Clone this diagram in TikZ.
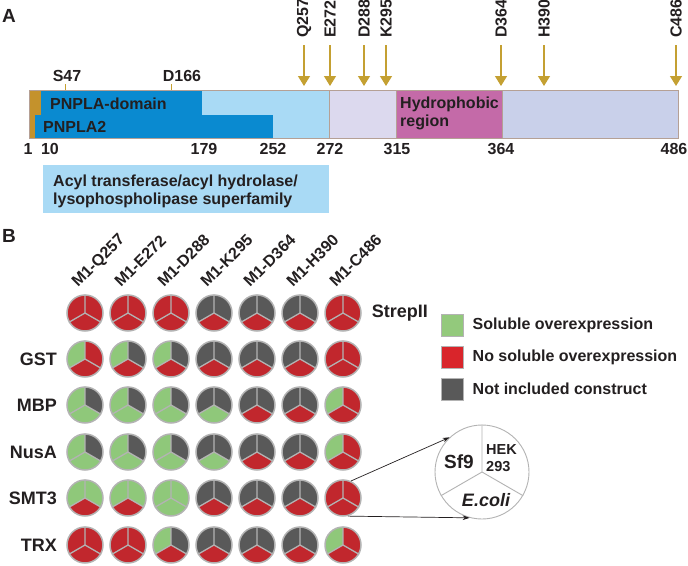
\documentclass[tikz,border=0pt]{standalone}
\usepackage{fontspec}
\setmainfont{Liberation Sans}
\usepackage{xcolor}
\usetikzlibrary{arrows.meta,positioning}

\definecolor{ink}{HTML}{231F20}
\definecolor{gold}{HTML}{C4922C}
\definecolor{arrowgold}{HTML}{C4A032}
\definecolor{pnpla}{HTML}{0A8AD0}
\definecolor{skyblue}{HTML}{A9DAF5}
\definecolor{lilac}{HTML}{DCD9EE}
\definecolor{hydro}{HTML}{C46AA8}
\definecolor{periw}{HTML}{C9D0EA}
\definecolor{barline}{HTML}{B5A095}
\definecolor{pieg}{HTML}{8FC87A}
\definecolor{pier}{HTML}{C1272D}
\definecolor{pied}{HTML}{595959}
\definecolor{rim}{HTML}{B3B3B3}
\definecolor{legr}{HTML}{D9252B}
\definecolor{legg}{HTML}{93C97C}

\begin{document}
\begin{tikzpicture}[
    x=1pt, y=-1pt,
    lab/.style={font=\fontsize{16}{18}\selectfont\bfseries, text=ink, inner sep=0pt},
    panel/.style={font=\fontsize{19}{22}\selectfont\bfseries, text=ink, inner sep=0pt},
    rowlab/.style={font=\fontsize{18}{21}\selectfont\bfseries, text=ink, inner sep=0pt, anchor=east},
    collab/.style={lab, rotate=45, anchor=base west},
    reslab/.style={lab, rotate=90, anchor=west},
    resarrow/.style={arrowgold, line width=1.3pt, -{Triangle[length=10pt,width=12pt]}},
    segment/.style={draw=barline, line width=0.8pt},
    pie/.style={circle, draw=rim, line width=1.5pt, minimum size=36pt, inner sep=0pt},
    divider/.style={rim, line width=1.3pt},
    legbox/.style={draw=rim, line width=1pt, minimum size=22pt, inner sep=0pt},
    callout/.style={ink, line width=0.7pt, -{Stealth[length=7pt,width=4.5pt]}}
]
    \useasboundingbox (0,0) rectangle (688,565);

    % Panel A
    \node[panel] (A) at (9,16) {A};

    % Protein bar
    \fill[skyblue] (41,90) rectangle (329,138);
    \fill[gold] (29,90) rectangle (41,138);
    \fill[pnpla] (41,90) rectangle (202,115);
    \fill[pnpla] (35,115) rectangle (273,138);
    \fill[lilac] (329,90) rectangle (396,138);
    \fill[hydro] (396,90) rectangle (502,138);
    \fill[periw] (502,90) rectangle (678,138);
    \draw[segment] (329,90) -- (329,138) (396,90) -- (396,138) (502,90) -- (502,138);
    \draw[segment] (29,90) rectangle (678,138);

    \node[lab, anchor=west] (domain) at (50,104) {PNPLA-domain};
    \node[lab, anchor=west] (pnpla2) at (43,127) {PNPLA2};
    \node[lab, anchor=north west, align=left] (hydro) at (400,97) {Hydrophobic\\region};

    % Catalytic residues
    \draw[arrowgold, line width=1pt] (65,84) -- (65,90) (171,84) -- (171,90);
    \node[lab] (s47) at (67,76) {S47};
    \node[lab] (d166) at (182,76) {D166};

    % Truncation sites
    \foreach \x/\res in {304/Q257, 330/E272, 364/D288, 386/K295, 501/D364, 544/H390, 676/C486} {
        \node[reslab] (l-\res) at (\x,38) {\res};
        \coordinate (t-\res) at (\x,86);
        \draw[resarrow] ([yshift=-7pt]l-\res.west) -- (t-\res);
    }

    % Residue numbers
    \foreach \x/\num in {28/1, 50/10, 204/179, 273/252, 330/272, 397/315, 501/364, 674/486}
        \node[lab] (n-\num) at (\x,149) {\num};

    % Superfamily
    \fill[skyblue] (43,165) rectangle (329,213);
    \node[lab, anchor=north west, align=left] (family) at (53,175)
        {Acyl transferase/acyl hydrolase/\\lysophospholipase superfamily};

    % Panel B
    \node[panel] (B) at (9,236) {B};

    % Constructs
    \foreach \res [count=\i] in {Q257, E272, D288, K295, D364, H390, C486} {
        \pgfmathsetmacro{\px}{85+43*(\i-1)}
        \node[collab] (c-\res) at (\px-7,288) {M1-\res};
    }

    % Tags
    \node[rowlab] (r-gst) at (57,359) {GST};
    \node[rowlab] (r-mbp) at (57,405) {MBP};
    \node[rowlab] (r-nusa) at (57,452) {NusA};
    \node[rowlab] (r-smt) at (57,498) {SMT3};
    \node[rowlab] (r-trx) at (57,545) {TRX};

    % Pies: Sf9 / HEK293 / E.coli
    \foreach \py/\rw/\cells in {
        313/strep/{r/r/r,r/r/r,r/r/r,d/d/r,d/d/r,d/d/r,r/r/r},
        359/gst/{g/r/r,g/d/r,g/d/r,d/d/r,d/d/r,d/d/r,r/r/r},
        405/mbp/{g/d/g,g/d/g,g/d/g,d/d/g,d/d/r,d/d/r,g/r/r},
        452/nusa/{g/d/g,g/d/g,g/d/g,d/d/g,d/d/r,d/d/r,g/r/r},
        498/smt/{g/g/r,g/g/r,g/g/g,d/d/r,d/d/r,d/d/r,r/r/r},
        545/trx/{r/r/r,r/r/r,g/d/r,d/d/r,d/d/r,d/d/r,g/r/r}} {
        \foreach \a/\b/\c [count=\i] in \cells {
            \pgfmathsetmacro{\px}{85+43*(\i-1)}
            \fill[fill=pie\a] (\px,\py) -- ++(90:18pt) arc[start angle=90, end angle=210, radius=18pt] -- cycle;
            \fill[fill=pie\b] (\px,\py) -- ++(-30:18pt) arc[start angle=-30, end angle=90, radius=18pt] -- cycle;
            \fill[fill=pie\c] (\px,\py) -- ++(210:18pt) arc[start angle=210, end angle=330, radius=18pt] -- cycle;
            \node[pie] (p-\rw-\i) at (\px,\py) {};
            \draw[divider] (p-\rw-\i.center) -- (p-\rw-\i.90)
                           (p-\rw-\i.center) -- (p-\rw-\i.210)
                           (p-\rw-\i.center) -- (p-\rw-\i.330);
        }
    }

    \node[rowlab, anchor=west, right=10pt of p-strep-7] (r-strep) {StrepII};

    % Legend
    \node[legbox, fill=legg] (leg-sol) at (452,325) {};
    \node[legbox, fill=legr] (leg-no) at (452,357) {};
    \node[legbox, fill=pied] (leg-not) at (452,389) {};
    \node[lab, right=9pt of leg-sol] (t-sol) {Soluble overexpression};
    \node[lab, right=9pt of leg-no] (t-no) {No soluble overexpression};
    \node[lab, right=9pt of leg-not] (t-not) {Not included construct};

    % Expression hosts
    \node[circle, draw=rim, line width=0.9pt, minimum size=94pt, inner sep=0pt, fill=white] (host) at (482,472) {};
    \draw[rim, line width=0.9pt] (host.center) -- (host.90) (host.center) -- (host.210) (host.center) -- (host.330);
    \node[font=\fontsize{19}{22}\selectfont\bfseries, text=ink, inner sep=0pt] (sf9) at (459,462) {Sf9};
    \node[font=\fontsize{14.5}{17}\selectfont\bfseries, text=ink, inner sep=0pt, align=left, anchor=west] (hek) at (486,458) {HEK\\293};
    \node[font=\fontsize{18}{21}\selectfont\bfseries\itshape, text=ink, inner sep=0pt] (ecoli) at (486,500) {E.coli};

    \draw[callout] (p-smt-7.65) -- (host.133);
    \draw[callout] (p-smt-7.-75) -- (host.255);

\end{tikzpicture}
\end{document}
